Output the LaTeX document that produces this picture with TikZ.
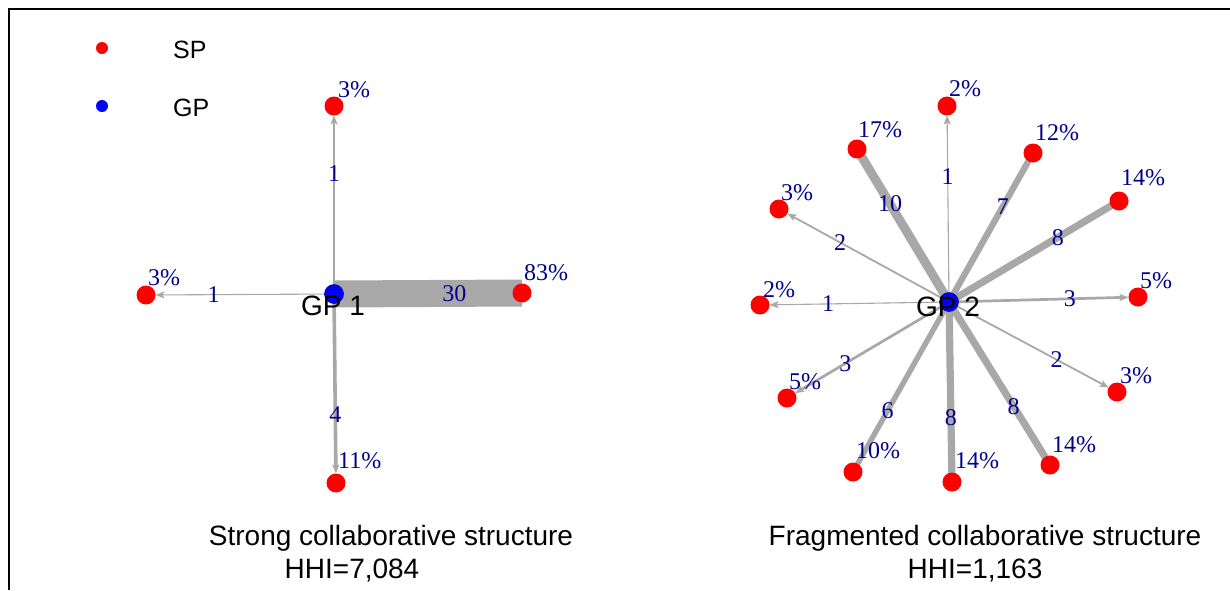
\documentclass[tikz,border=0pt]{standalone}
\usepackage{fontspec}
\setmainfont{Liberation Serif}
\newfontfamily\arialfont{Liberation Sans}
\usepackage{tikz}
\usetikzlibrary{arrows.meta,calc}
\definecolor{spred}{HTML}{FF0000}
\definecolor{gpblue}{HTML}{0000FF}
\definecolor{wgray}{HTML}{A8A8A8}
\definecolor{labblue}{HTML}{00008B}
\pgfdeclarelayer{edges}
\pgfsetlayers{edges,main}
\tikzset{
  sp/.style    ={circle, fill=spred, minimum size=19pt, inner sep=0pt, outer sep=0pt},
  gp/.style    ={circle, fill=gpblue, draw=gpblue!60!black, line width=0.6pt, minimum size=19pt, inner sep=0pt, outer sep=0pt},
  pct/.style   ={anchor=base west, inner sep=0pt, text=labblue, font=\fontsize{24}{24}\selectfont},
  wt/.style    ={inner sep=0pt, text=labblue, font=\fontsize{24}{24}\selectfont},
  gplab/.style ={inner sep=0pt, font=\arialfont\fontsize{28}{28}\selectfont},
  arc/.style   ={draw=wgray, -{Stealth[length=9pt,width=7pt,inset=2pt]}},
  bigarc/.style={draw=wgray, line cap=butt},
  caption/.style={anchor=base, inner sep=0pt, font=\arialfont\fontsize{28}{28}\selectfont},
  legdot/.style={circle, minimum size=12pt, inner sep=0pt, outer sep=0pt},
  legtxt/.style={anchor=west, inner sep=0pt, font=\arialfont\fontsize{25}{25}\selectfont},
}

\begin{document}
\begin{tikzpicture}[x=1pt, y=-1pt]
  \useasboundingbox (0,0) rectangle (1230,590);
  \draw[line width=2pt] (9,590) -- (9,9) -- (1230,9);

  % legend
  \node[legdot, fill=spred]  (ksp) at (102,48)  {};
  \node[legtxt]              (tsp) at (173,50)  {SP};
  \node[legdot, fill=gpblue] (kgp) at (102,106) {};
  \node[legtxt]              (tgp) at (173,108) {GP};

  % strong structure
  \node[gp] (G1) at (334,294) {};
  \foreach \n/\x/\y/\p/\w/\lx/\ly in {l1/334/106/3/1/338/97, l2/146/295/3/1/148/285,
      l3/522/293/83/30/524/280, l4/336/483/11/4/338/468}{
    \node[sp] (\n) at (\x,\y) {};
    \node[pct] (p\n) at (\lx,\ly) {\p\%};
    \node[wt] (w\n) at ($(G1)!0.64!(\n)$) {\w};
    \pgfmathsetmacro\lw{max(1.1,0.9*\w)}
    \begin{pgfonlayer}{edges}
      \ifnum\w<5
        \draw[arc, line width=\lw pt] (G1.center) -- (\n);
      \else
        \draw[bigarc, line width=\lw pt] (G1.center) -- (\n.center);
      \fi
    \end{pgfonlayer}
  }
  \node[gplab] (g1lab) at (333,306) {GP 1};

  % fragmented structure
  \node[gp] (G2) at (949,302) {};
  \foreach \n/\x/\y/\p/\w/\lx/\ly in {r1/947/106/2/1/949/96, r2/857/149/17/10/858/137,
      r3/1033/153/12/7/1035/140, r4/1119/201/14/8/1121/185, r5/779/209/3/2/781/200,
      r6/760/305/2/1/763/297, r7/1138/297/5/3/1140/288, r8/787/398/5/3/789/389,
      r9/853/472/10/6/856/458, r10/952/482/14/8/955/468, r11/1050/465/14/8/1052/452,
      r12/1117/392/3/2/1120/383}{
    \node[sp] (\n) at (\x,\y) {};
    \node[pct] (p\n) at (\lx,\ly) {\p\%};
    \node[wt] (w\n) at ($(G2)!0.64!(\n)$) {\w};
    \pgfmathsetmacro\lw{max(1.1,0.9*\w)}
    \begin{pgfonlayer}{edges}
      \ifnum\w<5
        \draw[arc, line width=\lw pt] (G2.center) -- (\n);
      \else
        \draw[bigarc, line width=\lw pt] (G2.center) -- (\n.center);
      \fi
    \end{pgfonlayer}
  }
  \node[gplab] (g2lab) at (948,307) {GP 2};

  % captions
  \node[caption] (c1) at (391,545) {Strong collaborative structure};
  \node[caption] (h1) at (352,578) {HHI=7,084};
  \node[caption] (c2) at (985,545) {Fragmented collaborative structure};
  \node[caption] (h2) at (975,578) {HHI=1,163};
\end{tikzpicture}
\end{document}
